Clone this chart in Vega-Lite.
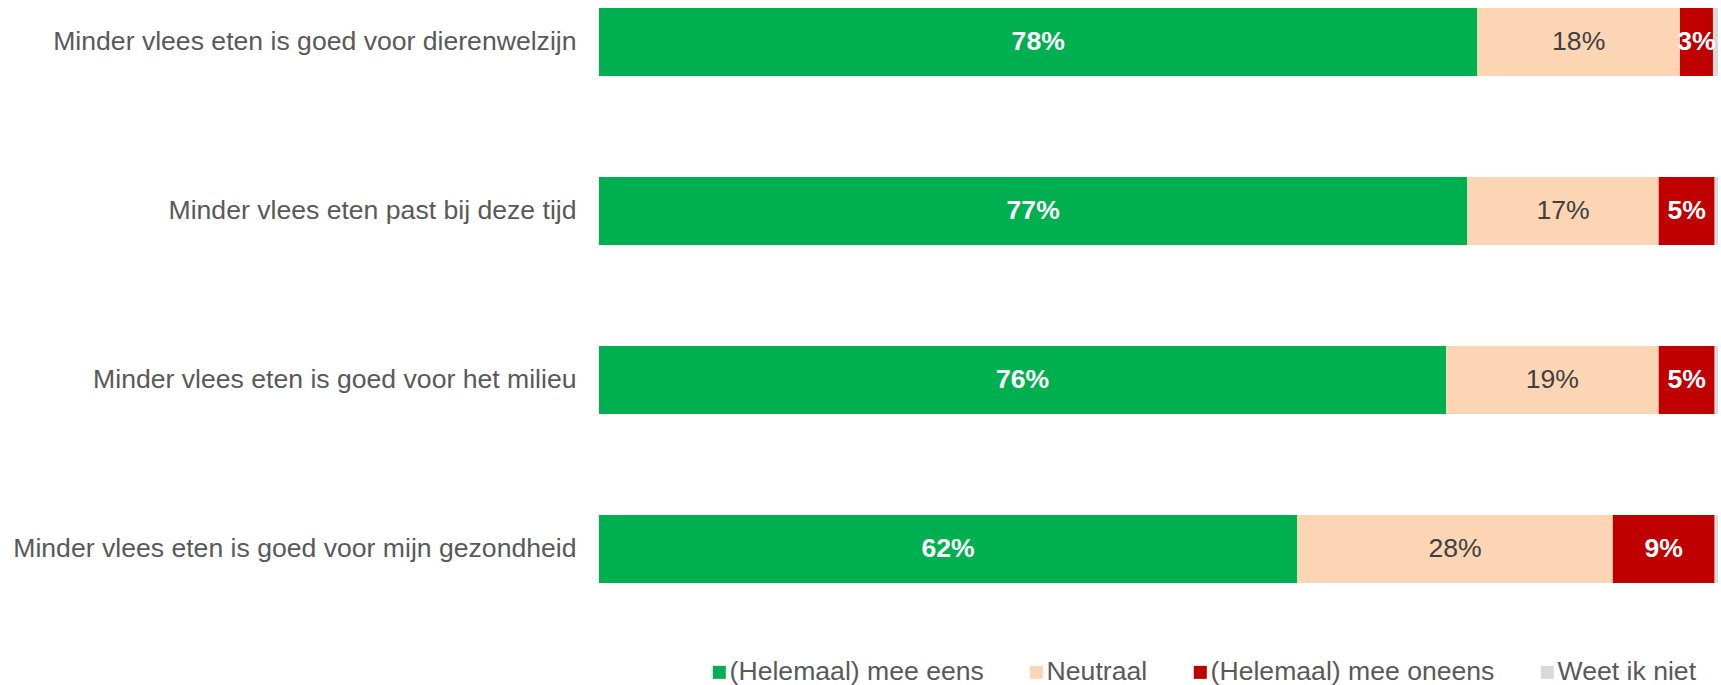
{
  "$schema": "https://vega.github.io/schema/vega-lite/v6.json",
  "width": 1119,
  "height": 591,
  "padding": 0,
  "background": "white",
  "config": {
    "view": {"stroke": null},
    "font": "Liberation Sans"
  },
  "data": {
    "values": [
      {"item": "Minder vlees eten is goed voor dierenwelzijn", "cat": "(Helemaal) mee eens", "ord": 1, "value": 78.5, "label": "78%"},
      {"item": "Minder vlees eten is goed voor dierenwelzijn", "cat": "Neutraal", "ord": 2, "value": 18.1, "label": "18%"},
      {"item": "Minder vlees eten is goed voor dierenwelzijn", "cat": "(Helemaal) mee oneens", "ord": 3, "value": 2.95, "label": "3%"},
      {"item": "Minder vlees eten is goed voor dierenwelzijn", "cat": "Weet ik niet", "ord": 4, "value": 0.45, "label": ""},
      {"item": "Minder vlees eten past bij deze tijd", "cat": "(Helemaal) mee eens", "ord": 1, "value": 77.6, "label": "77%"},
      {"item": "Minder vlees eten past bij deze tijd", "cat": "Neutraal", "ord": 2, "value": 17.1, "label": "17%"},
      {"item": "Minder vlees eten past bij deze tijd", "cat": "(Helemaal) mee oneens", "ord": 3, "value": 5.0, "label": "5%"},
      {"item": "Minder vlees eten past bij deze tijd", "cat": "Weet ik niet", "ord": 4, "value": 0.3, "label": ""},
      {"item": "Minder vlees eten is goed voor het milieu", "cat": "(Helemaal) mee eens", "ord": 1, "value": 75.7, "label": "76%"},
      {"item": "Minder vlees eten is goed voor het milieu", "cat": "Neutraal", "ord": 2, "value": 19.0, "label": "19%"},
      {"item": "Minder vlees eten is goed voor het milieu", "cat": "(Helemaal) mee oneens", "ord": 3, "value": 5.0, "label": "5%"},
      {"item": "Minder vlees eten is goed voor het milieu", "cat": "Weet ik niet", "ord": 4, "value": 0.3, "label": ""},
      {"item": "Minder vlees eten is goed voor mijn gezondheid", "cat": "(Helemaal) mee eens", "ord": 1, "value": 62.4, "label": "62%"},
      {"item": "Minder vlees eten is goed voor mijn gezondheid", "cat": "Neutraal", "ord": 2, "value": 28.2, "label": "28%"},
      {"item": "Minder vlees eten is goed voor mijn gezondheid", "cat": "(Helemaal) mee oneens", "ord": 3, "value": 9.1, "label": "9%"},
      {"item": "Minder vlees eten is goed voor mijn gezondheid", "cat": "Weet ik niet", "ord": 4, "value": 0.3, "label": ""}
    ]
  },
  "transform": [
    {"stack": "value", "groupby": ["item"], "sort": [{"field": "ord", "order": "ascending"}], "as": ["v0", "v1"]}
  ],
  "encoding": {
    "y": {
      "field": "item",
      "type": "nominal",
      "sort": null,
      "title": null,
      "scale": {"paddingInner": 0.5976, "paddingOuter": 0.0473},
      "axis": {
        "ticks": false,
        "domain": false,
        "labelFontSize": 26.6,
        "labelColor": "#595959",
        "labelPadding": 23,
        "labelLimit": 700,
        "minExtent": 599,
        "maxExtent": 599
      }
    }
  },
  "layer": [
    {
      "mark": {"type": "bar"},
      "encoding": {
        "x": {
          "field": "v0",
          "type": "quantitative",
          "scale": {"domain": [0, 100], "nice": false, "zero": true},
          "axis": null
        },
        "x2": {"field": "v1"},
        "color": {
          "field": "cat",
          "type": "nominal",
          "scale": {
            "domain": ["(Helemaal) mee eens", "Neutraal", "(Helemaal) mee oneens", "Weet ik niet"],
            "range": ["#00B050", "#FCD5B5", "#C00000", "#D9D9D9"]
          },
          "legend": {
            "title": null,
            "orient": "none",
            "legendX": 107,
            "legendY": 659,
            "direction": "horizontal",
            "symbolType": "square",
            "symbolSize": 169,
            "symbolStrokeWidth": 0,
            "symbolOpacity": 1,
            "labelFontSize": 26.6,
            "labelColor": "#595959",
            "labelOffset": -3,
            "columnPadding": 39,
            "labelLimit": 500,
            "padding": 0
          }
        }
      }
    },
    {
      "transform": [
        {"filter": "datum.ord != 4"},
        {"fold": ["v0", "v1"], "as": ["edge", "pos"]},
        {"aggregate": [{"op": "mean", "field": "pos", "as": "mid"}], "groupby": ["item", "cat", "ord", "label"]}
      ],
      "encoding": {
        "x": {"field": "mid", "type": "quantitative"},
        "text": {"field": "label"}
      },
      "layer": [
        {
          "transform": [{"filter": "datum.ord == 1 || datum.ord == 3"}],
          "mark": {"type": "text", "fontSize": 26.6, "fontWeight": "bold", "color": "white", "align": "center", "baseline": "middle"}
        },
        {
          "transform": [{"filter": "datum.ord == 2"}],
          "mark": {"type": "text", "fontSize": 26.6, "color": "#404040", "align": "center", "baseline": "middle"}
        }
      ]
    }
  ]
}
